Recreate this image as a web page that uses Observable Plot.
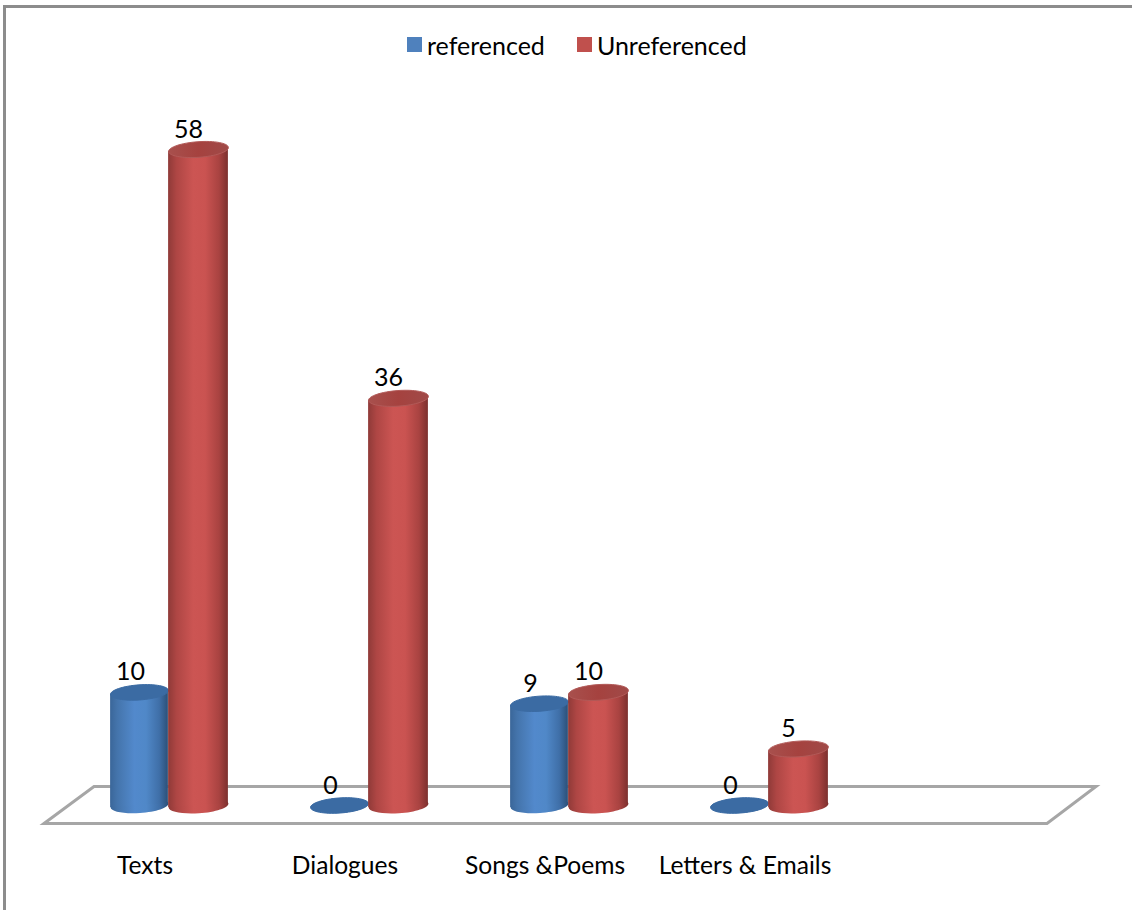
<!DOCTYPE html>
<html>
<head>
<meta charset="utf-8">
<script src="https://cdn.jsdelivr.net/npm/d3@7"></script>
<script src="https://cdn.jsdelivr.net/npm/@observablehq/plot@0.6"></script>
<style>
  html, body { margin: 0; padding: 0; background: #fff; }
  #chart { position: relative; width: 1132px; height: 910px; overflow: hidden; box-sizing: border-box; font-family: Lato, sans-serif; color: #000; }
  #chart::before { content: ""; position: absolute; left: 3px; top: 5px; right: 0; bottom: 0; border-left: 3px solid #8c8c8c; border-top: 3px solid #8c8c8c; pointer-events: none; }
  #legend { height: 70px; box-sizing: border-box; padding-top: 28px; }
  #legend span { margin-right: 32px !important; }
  #legend span > svg { margin-right: 5px !important; }
  svg { display: block; }
</style>
</head>
<body>
<div id="chart"><div id="legend"></div></div>
<script>
const categories = ["Texts", "Dialogues", "Songs &Poems", "Letters & Emails", " "];
const seriesNames = ["referenced", "Unreferenced"];
const referencedValues = [10, 0, 9, 0];
const unreferencedValues = [58, 36, 10, 5];
const legendColors = ["#4f81bd", "#c0504d"];

const chartHeight = 840;
const legendHeight = 70;
const band = 200.2;
const tilt = 4 * Math.PI / 180;
const squash = 0.26;

// Slope through the points where a tilted ellipse has vertical tangents,
// so that the sides of each cylinder meet its caps.
const rimSlope = (() => {
  const s = Math.sin(tilt), c = Math.cos(tilt), q = squash * squash;
  return s * c * (1 - q) / (c * c + q * s * s);
})();

// Tilted ellipse for the cylinder caps, usable as a Plot dot symbol.
const ellipseSymbol = {
  draw(context, size) {
    const a = Math.sqrt(size / Math.PI), b = a * squash;
    const k = 0.5523;
    const c = Math.cos(-tilt), s = Math.sin(-tilt);
    const p = (x, y) => [x * c - y * s, x * s + y * c];
    context.moveTo(...p(a, 0));
    context.bezierCurveTo(...p(a, k * b), ...p(k * a, b), ...p(0, b));
    context.bezierCurveTo(...p(-k * a, b), ...p(-a, k * b), ...p(-a, 0));
    context.bezierCurveTo(...p(-a, -k * b), ...p(-k * a, -b), ...p(0, -b));
    context.bezierCurveTo(...p(k * a, -b), ...p(a, -k * b), ...p(a, 0));
    context.closePath();
  }
};

// Horizontal shading of the cylinder bodies and cap fills.
function gradients() {
  const svg = d3.create("svg:defs");
  const add = (id, stops) => {
    const g = svg.append("linearGradient").attr("id", id).attr("x1", 0).attr("x2", 1).attr("y1", 0).attr("y2", 0);
    for (const [o, col] of stops) g.append("stop").attr("offset", o).attr("stop-color", col);
  };
  add("bodyBlue", [[0, "#3a6699"], [0.12, "#4474ab"], [0.42, "#5289cc"], [0.62, "#5088c8"], [0.85, "#3f6fa8"], [1, "#2c5078"]]);
  add("bodyRed", [[0, "#8f3a38"], [0.14, "#ae4644"], [0.42, "#cc5553"], [0.62, "#ca5351"], [0.85, "#a94341"], [1, "#7c302e"]]);
  add("capRed", [[0, "#a8504d"], [0.5, "#a5423f"], [1, "#a04a48"]]);
  return svg.node();
}

// Floor of the chart: a parallelogram spanning every category band.
function floor(index, {x, y}) {
  const [x0, x1] = x.range();
  const base = y(0);
  const path = d3.path();
  path.moveTo(x0 - 23, base + 18.5);
  path.lineTo(x0 + 27, base - 18.5);
  path.lineTo(x1 + 28, base - 18.5);
  path.lineTo(x1 - 21, base + 18.5);
  path.closePath();
  return d3.create("svg:path").attr("d", path.toString()).attr("fill", "none")
    .attr("stroke", "#a6a6a6").attr("stroke-width", 3).attr("stroke-linejoin", "miter").node();
}

// Shear a bar about its own centre so its ends follow the ellipse tilt.
function shearBar(index, scales, values, dimensions, context, next) {
  const g = next(index, scales, values, dimensions, context);
  d3.select(g).selectAll("rect").attr("transform", function () {
    const cx = +this.getAttribute("x") + +this.getAttribute("width") / 2;
    return `matrix(1 ${-rimSlope} 0 1 0 ${cx * rimSlope})`;
  });
  return g;
}

const rows = (values) => values.map((value, i) => ({category: categories[i], value}));

// One series of cylinders: bottom cap, body, top cap.
function cylinders(values, side, width, bodyFill, capFill, capStroke) {
  const data = rows(values);
  const offset = side * width / 2;
  const inset = side < 0
    ? {insetLeft: band / 2 - width, insetRight: band / 2}
    : {insetLeft: band / 2, insetRight: band / 2 - width};
  return [
    Plot.dot(data, {x: "category", y: () => 0, dx: offset, r: width / 2, symbol: ellipseSymbol, fill: bodyFill, stroke: "none"}),
    Plot.barY(data, {x: "category", y: "value", fill: bodyFill, ...inset, render: shearBar}),
    Plot.dot(data, {x: "category", y: "value", dx: offset, r: width / 2, symbol: ellipseSymbol, fill: capFill, stroke: capStroke, strokeWidth: 1})
  ];
}

const valueLabels = (values, side) => Plot.text(rows(values), {
  x: "category", y: "value", text: "value", dx: side * 29 - 9, dy: -20,
  fontSize: 25, fill: "#000"
});

const legend = Plot.legend({
  color: {domain: seriesNames, range: legendColors},
  swatchSize: 15,
  style: {fontFamily: "Lato, sans-serif", fontSize: "25px", color: "#000", marginLeft: "407px"}
});
document.getElementById("legend").append(legend);

const plot = Plot.plot({
  width: 1132,
  height: chartHeight,
  marginLeft: 67,
  marginRight: 64,
  marginTop: 0,
  marginBottom: 0,
  style: {background: "transparent", fontFamily: "Lato, sans-serif"},
  x: {domain: categories, padding: 0, axis: null},
  y: {domain: [0, 58], range: [805 - legendHeight, 149 - legendHeight], axis: null},
  marks: [
    gradients,
    floor,
    ...cylinders(referencedValues, -1, 58, "url(#bodyBlue)", "#3b6ba3", "#3b6ba3"),
    ...cylinders(unreferencedValues, 1, 60, "url(#bodyRed)", "url(#capRed)", "#b25a58"),
    valueLabels(referencedValues, -1),
    valueLabels(unreferencedValues, 1),
    Plot.text(categories, {
      x: (d) => d, frameAnchor: "top", dx: -23.5, dy: 856 - legendHeight,
      text: (d) => d, fontSize: 24.6, fill: "#000"
    })
  ]
});
document.getElementById("chart").append(plot);
</script>
</body>
</html>
